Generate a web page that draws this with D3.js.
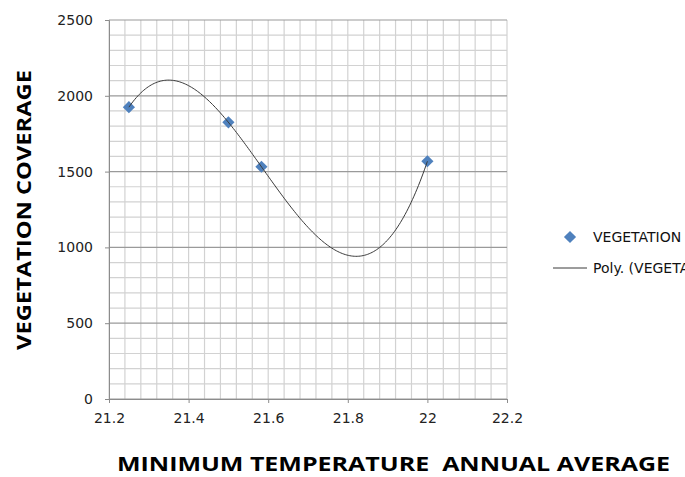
<!DOCTYPE html>
<html>
<head>
<meta charset="utf-8">
<script src="https://cdn.jsdelivr.net/npm/d3@7"></script>
<style>
  body { margin: 0; background: #fff; }
  svg { display: block; }
  .tick text { font-family: "DejaVu Sans", sans-serif; font-size: 14px; fill: #222; }
</style>
</head>
<body>
<div class="chart"></div>
<script>
// data
let temperature = [21.25, 21.5, 21.583, 22];
let coverage = [1925, 1825, 1532, 1568];
let xTicks = [21.2, 21.4, 21.6, 21.8, 22, 22.2];
let yTicks = [0, 500, 1000, 1500, 2000, 2500];
let seriesName = "VEGETATION COVERAGE";
let trendName = "Poly. (VEGETATION COVERAGE)";

let svg = d3.select(".chart").append("svg").attr("width", 685).attr("height", 477),
    margin = {top: 20, left: 109, right: 178, bottom: 78},
    width = 685 - margin.left - margin.right,
    height = 477 - margin.top - margin.bottom,
    g = svg.append("g").attr("transform", "translate(" + margin.left + "," + margin.top + ")");

let x = d3.scaleLinear().domain([21.2, 22.2]).range([0, width]),
    y = d3.scaleLinear().domain([0, 2500]).range([height, 0]);

// minor grid: 0.04 in x, 100 in y
let xMinor = d3.range(0, 26).map(i => 21.2 + i * 0.04);
let yMinor = d3.range(0, 26).map(i => i * 100);

g.selectAll(".vgrid").data(xMinor).enter().append("line")
    .attr("x1", d => x(d)).attr("x2", d => x(d))
    .attr("y1", 0).attr("y2", height)
    .attr("stroke", "#d2d2d2").attr("stroke-width", 1.2);

g.selectAll(".hgrid").data(yMinor).enter().append("line")
    .attr("y1", d => y(d)).attr("y2", d => y(d))
    .attr("x1", 0).attr("x2", width)
    .attr("stroke", d => d % 500 === 0 ? "#9a9a9a" : "#d2d2d2")
    .attr("stroke-width", 1.2);

// axes
let xAxis = g.append("g")
    .attr("transform", "translate(0," + height + ")")
    .call(d3.axisBottom(x).tickValues(xTicks).tickSize(4).tickPadding(10)
        .tickFormat(d => String(+d.toFixed(1))));
let yAxis = g.append("g")
    .call(d3.axisLeft(y).tickValues(yTicks).tickSize(4).tickPadding(12)
        .tickFormat(d3.format("d")));

[xAxis, yAxis].forEach(a => {
    a.select(".domain").attr("stroke", "#8c8c8c");
    a.selectAll(".tick line").attr("stroke", "#8c8c8c");
});

// polynomial trendline, order 3 (least squares)
function polyFit(xs, ys, order) {
    let n = order + 1, x0 = xs[0];
    let A = d3.range(n).map(() => d3.range(n + 1).map(() => 0));
    xs.forEach((xv, k) => {
        let t = xv - x0;
        for (let i = 0; i < n; i++) {
            for (let j = 0; j < n; j++) A[i][j] += Math.pow(t, i + j);
            A[i][n] += ys[k] * Math.pow(t, i);
        }
    });
    for (let i = 0; i < n; i++) {
        let p = i;
        for (let r = i + 1; r < n; r++) if (Math.abs(A[r][i]) > Math.abs(A[p][i])) p = r;
        [A[i], A[p]] = [A[p], A[i]];
        for (let r = 0; r < n; r++) {
            if (r === i) continue;
            let f = A[r][i] / A[i][i];
            for (let c = i; c <= n; c++) A[r][c] -= f * A[i][c];
        }
    }
    let coef = A.map((row, i) => row[n] / row[i]);
    return xv => coef.reduce((s, c, i) => s + c * Math.pow(xv - x0, i), 0);
}

let trend = polyFit(temperature, coverage, 3);
let xMin = d3.min(temperature), xMax = d3.max(temperature);
let trendPts = d3.range(0, 201).map(i => {
    let xv = xMin + (xMax - xMin) * i / 200;
    return [xv, trend(xv)];
});

let diamond = d3.symbol().type(d3.symbolSquare).size(74);

g.selectAll(".point").data(temperature).enter().append("path")
    .attr("d", diamond)
    .attr("transform", (d, i) => "translate(" + x(d) + "," + y(coverage[i]) + ") rotate(45)")
    .attr("fill", "#4f81bd");

g.append("path")
    .datum(trendPts)
    .attr("fill", "none")
    .attr("stroke", "#3a3a3a")
    .attr("stroke-width", 1)
    .attr("d", d3.line().x(d => x(d[0])).y(d => y(d[1])));

// axis titles
svg.append("text")
    .attr("transform", "translate(31,210) rotate(-90)")
    .attr("text-anchor", "middle")
    .attr("textLength", 280).attr("lengthAdjust", "spacingAndGlyphs")
    .style("font", "bold 20px 'Open Sans', sans-serif")
    .text(seriesName);

svg.append("text")
    .attr("x", 117).attr("y", 471)
    .attr("textLength", 553).attr("lengthAdjust", "spacingAndGlyphs")
    .style("font", "bold 20px 'Open Sans', sans-serif")
    .style("white-space", "pre")
    .text("MINIMUM TEMPERATURE  ANNUAL AVERAGE");

// legend (the window cuts it off at the right, as in the original)
let legend = svg.append("g").style("font", "14px 'DejaVu Sans', sans-serif");
legend.append("path")
    .attr("d", diamond)
    .attr("transform", "translate(570,237) rotate(45)")
    .attr("fill", "#4f81bd");
legend.append("text").attr("x", 593).attr("y", 242).attr("fill", "#111").text(seriesName);
legend.append("line")
    .attr("x1", 553).attr("x2", 587).attr("y1", 268).attr("y2", 268)
    .attr("stroke", "#3a3a3a").attr("stroke-width", 1);
legend.append("text").attr("x", 593).attr("y", 273).attr("fill", "#111").text(trendName);
</script>
</body>
</html>
